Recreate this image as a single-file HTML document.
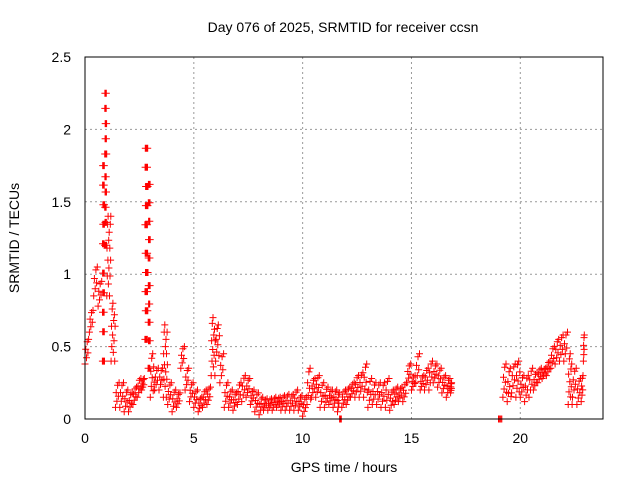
<!DOCTYPE html>
<html><head><meta charset="utf-8"><style>
body{margin:0;background:#fff}
svg{display:block;font-family:"Liberation Sans",sans-serif}
</style></head><body>
<svg id="chart" width="640" height="480">
<rect width="640" height="480" fill="#fff"/>
<text x="343" y="32" font-size="14" text-anchor="middle">Day 076 of 2025, SRMTID for receiver ccsn</text>
<text x="344" y="472" font-size="14" text-anchor="middle">GPS time / hours</text>
<text transform="translate(19,238) rotate(-90)" font-size="14" text-anchor="middle">SRMTID / TECUs</text>
<g id="grid"></g><g id="marks"></g>
<rect x="85" y="57" width="518" height="362" fill="none" stroke="#000"/>
</svg>
<script>
const xTicks=[0,5,10,15,20];
const yTicks=[0,0.5,1,1.5,2,2.5];
const yTickLabels=["0","0.5","1","1.5","2","2.5"];
const hours=[0,0.2,0.4,0.6,0.8,0.9,1.0,1.2,1.4,1.6,1.8,2.0,2.2,2.4,2.6,2.75,2.9,3.0,3.2,3.4,3.6,3.8,4.0,4.2,4.4,4.6,4.8,5.0,5.2,5.4,5.6,5.8,6.0,6.2,6.4,6.6,6.8,7.0,7.2,7.4,7.6,7.8,8.0,8.2,8.4,8.6,8.8,9.0,9.2,9.4,9.6,9.8,10.0,10.2,10.4,10.6,10.8,11.0,11.2,11.4,11.6,11.7,11.8,12.0,12.2,12.4,12.6,12.8,13.0,13.2,13.4,13.6,13.8,14.0,14.2,14.4,14.6,14.8,15.0,15.2,15.4,15.6,15.8,16.0,16.2,16.4,16.6,16.8,19.0,19.2,19.4,19.6,19.8,20.0,20.2,20.4,20.6,20.8,21.0,21.2,21.4,21.6,21.8,22.0,22.2,22.4,22.6,22.8,22.9];
const lows=[.38,.6,.85,.78,.4,1.2,.85,.4,.08,.08,.05,.05,.1,.15,.2,.55,.35,.15,.2,.2,.15,.1,.05,.08,.35,.2,.12,.08,.05,.08,.1,.3,.4,.25,.08,.08,.06,.1,.12,.15,.1,.05,.03,.06,.06,.06,.08,.06,.06,.06,.06,.06,.02,.1,.15,.15,.08,.08,.1,.08,.05,0,.08,.1,.15,.15,.15,.15,.08,.1,.1,.08,.08,.06,.1,.12,.12,.25,.2,.25,.2,.2,.2,.25,.22,.18,.15,.18,0,.15,.12,.18,.15,.15,.12,.15,.2,.25,.28,.3,.35,.38,.4,.4,.1,.15,.1,.12,.4];
const highs=[.55,.75,1.05,.95,1.75,2.25,1.4,.8,.25,.25,.2,.18,.22,.28,.28,1.87,1.62,.45,.35,.35,.65,.25,.2,.18,.5,.35,.25,.2,.15,.2,.22,.7,.65,.45,.25,.2,.18,.25,.3,.28,.2,.18,.15,.14,.14,.15,.15,.16,.17,.17,.2,.16,.15,.35,.28,.3,.25,.22,.2,.2,.18,0,.2,.22,.25,.3,.32,.38,.28,.25,.25,.25,.28,.2,.22,.22,.25,.38,.3,.45,.3,.35,.4,.38,.35,.3,.28,.25,0,.38,.35,.38,.4,.3,.3,.35,.32,.35,.35,.4,.5,.55,.58,.6,.45,.35,.28,.3,.58];
const L=85,R=603,T=57,B=419,XMAX=23.8,YMAX=2.5;
const sx=v=>L+v/XMAX*(R-L), sy=v=>B-v/YMAX*(B-T);
const NS="http://www.w3.org/2000/svg";
const grid=document.getElementById('grid'), marks=document.getElementById('marks');
xTicks.forEach(t=>{const x=sx(t);
 if(t>0){const g=document.createElementNS(NS,'line');
 g.setAttribute('x1',x);g.setAttribute('x2',x);g.setAttribute('y1',T);g.setAttribute('y2',B);
 g.setAttribute('stroke','#999');g.setAttribute('stroke-dasharray','2,3');
 
 grid.appendChild(g);}
 const tx=document.createElementNS(NS,'text');tx.setAttribute('x',x);tx.setAttribute('y',B+24);
 tx.setAttribute('font-size','14');tx.setAttribute('text-anchor','middle');tx.textContent=t;
 
 grid.appendChild(tx);});
yTicks.forEach((t,i)=>{const y=sy(t);
 if(t>0&&t<YMAX){const g=document.createElementNS(NS,'line');
 g.setAttribute('x1',L);g.setAttribute('x2',R);g.setAttribute('y1',y);g.setAttribute('y2',y);
 g.setAttribute('stroke','#999');g.setAttribute('stroke-dasharray','2,3');
 
 grid.appendChild(g);}
 const tx=document.createElementNS(NS,'text');tx.setAttribute('x',L-14);tx.setAttribute('y',y+5);
 tx.setAttribute('font-size','14');tx.setAttribute('text-anchor','end');tx.textContent=yTickLabels[i];
 
 grid.appendChild(tx);});
const pat=[0,.6,.25,.9,.45,1,.15,.7,.35,.8];
let d='';
hours.forEach((t,i)=>{
 const nt=(i+1<hours.length&&hours[i+1]-t<=0.25)?hours[i+1]:t+0.05;
 const n=(lows[i]===highs[i])?4:Math.max(6,Math.round((highs[i]-lows[i])*30));
 for(let k=0;k<n;k++){
  const tt=t+(nt-t)*k/n, v=lows[i]+(highs[i]-lows[i])*pat[k%pat.length];
  const x=sx(tt),y=sy(v);
  d+=`M${(x-3.5).toFixed(1)} ${y.toFixed(1)}h7M${x.toFixed(1)} ${(y-3.5).toFixed(1)}v7`;
 }});
const p=document.createElementNS(NS,'path');p.setAttribute('d',d);p.setAttribute('stroke','#f00');p.setAttribute('fill','none');p.setAttribute('stroke-width','1');


marks.appendChild(p);
</script>
</body></html>
